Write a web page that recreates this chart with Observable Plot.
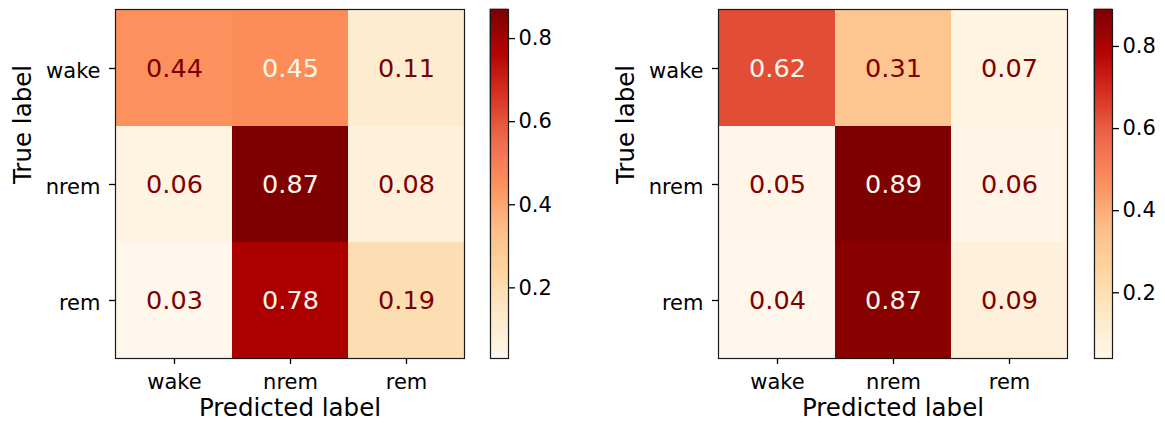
<!DOCTYPE html>
<html>
<head>
<meta charset="utf-8">
<script src="https://cdn.jsdelivr.net/npm/d3@7"></script>
<script src="https://cdn.jsdelivr.net/npm/@observablehq/plot@0.6"></script>
<style>
  html, body { margin: 0; padding: 0; background: #ffffff; }
  #chart { position: relative; width: 1165px; height: 423px; overflow: hidden; }
  #chart > svg { position: absolute; top: 0; }
</style>
</head>
<body>
<div id="chart"></div>
<script>
// Class labels shared by both confusion matrices (rows = true, columns = predicted)
const labels = ["wake", "nrem", "rem"];

// Row-normalised confusion matrix, first model
const matrixLeft = [
  [0.44, 0.45, 0.11],
  [0.06, 0.87, 0.08],
  [0.03, 0.78, 0.19]
];

// Row-normalised confusion matrix, second model
const matrixRight = [
  [0.62, 0.31, 0.07],
  [0.05, 0.89, 0.06],
  [0.04, 0.87, 0.09]
];

// Tick values on the colour bars
const colorbarTicks = [0.2, 0.4, 0.6, 0.8];

// OrRd stops (ColorBrewer, 9 classes), interpolated linearly like a matplotlib colormap
const orrd = ["#fff7ec", "#fee8c8", "#fdd49e", "#fdbb84", "#fc8d59", "#ef6548", "#d7301f", "#b30000", "#7f0000"];
const darkText = orrd[orrd.length - 1];
const lightText = orrd[0];
const font = "DejaVu Sans, Liberation Sans, sans-serif";

const SIDE = 349;       // matrix / colour bar height in px
const TOP = 9;
const HEIGHT = 423;
const BOTTOM = HEIGHT - TOP - SIDE;

function colorScale(lo, hi) {
  const domain = orrd.map((_, i) => lo + (hi - lo) * i / (orrd.length - 1));
  return {type: "linear", domain, range: orrd, interpolate: "rgb"};
}

function toRows(matrix) {
  return matrix.flatMap((row, i) => row.map((value, j) => ({
    trueLabel: labels[i],
    predicted: labels[j],
    value
  })));
}

function matrixPlot(matrix) {
  const rows = toRows(matrix);
  const [lo, hi] = d3.extent(rows, d => d.value);
  const threshold = (lo + hi) / 2;
  const fmt = d3.format(".2f");
  return Plot.plot({
    width: 115 + SIDE + 4,
    height: HEIGHT,
    marginLeft: 115,
    marginRight: 4,
    marginTop: TOP,
    marginBottom: BOTTOM,
    style: {fontFamily: font, background: "transparent", color: "#000", overflow: "visible"},
    x: {type: "band", domain: labels, padding: 0, axis: null},
    y: {type: "band", domain: labels, padding: 0, axis: null},
    color: colorScale(lo, hi),
    marks: [
      Plot.cell(rows, {x: "predicted", y: "trueLabel", fill: "value"}),
      Plot.text(rows.filter(d => d.value < threshold), {
        x: "predicted", y: "trueLabel", text: d => fmt(d.value),
        fill: darkText, fontSize: 25.5
      }),
      Plot.text(rows.filter(d => d.value >= threshold), {
        x: "predicted", y: "trueLabel", text: d => fmt(d.value),
        fill: lightText, fontSize: 25.5
      }),
      Plot.frame({stroke: "#1a1a1a", strokeWidth: 1.2}),
      Plot.axisX({anchor: "bottom", tickSize: 6, tickPadding: 10, fontSize: 21, label: null, strokeWidth: 1.3}),
      Plot.axisY({anchor: "left", tickSize: 6, tickFormat: () => "", label: null, strokeWidth: 1.3}),
      Plot.axisY({anchor: "left", tickSize: 0, tickPadding: 15, dy: 3, fontSize: 21, label: null}),
      Plot.text(["Predicted label"], {frameAnchor: "bottom", lineAnchor: "middle", dy: 50, fontSize: 24.5, fill: "#000"}),
      Plot.text(["True label"], {frameAnchor: "left", lineAnchor: "middle", dx: -92, rotate: -90, fontSize: 24.5, fill: "#000"})
    ]
  });
}

function colorbarPlot(matrix) {
  const values = matrix.flat();
  const [lo, hi] = d3.extent(values);
  const n = 350;
  const step = (hi - lo) / n;
  const bands = d3.range(n).map(i => lo + step * i);
  return Plot.plot({
    width: 2 + 18 + 60,
    height: HEIGHT,
    marginLeft: 2,
    marginRight: 60,
    marginTop: TOP,
    marginBottom: BOTTOM,
    style: {fontFamily: font, background: "transparent", color: "#000", overflow: "visible"},
    x: {domain: [0, 1], axis: null},
    y: {domain: [lo, hi], axis: null},
    color: colorScale(lo, hi),
    marks: [
      Plot.rect(bands, {
        x1: 0, x2: 1,
        y1: d => d, y2: d => d + step,
        fill: d => d + step / 2,
        stroke: d => d + step / 2,
        strokeWidth: 0.6
      }),
      Plot.frame({stroke: "#1a1a1a", strokeWidth: 1.2}),
      Plot.axisY({
        anchor: "right", ticks: colorbarTicks, tickFormat: ".1f",
        tickSize: 6, tickPadding: 4, fontSize: 21, label: null, strokeWidth: 1.3
      })
    ]
  });
}

const chart = document.getElementById("chart");
const place = (svg, left) => { svg.style.left = left + "px"; chart.appendChild(svg); };

place(matrixPlot(matrixLeft), 0);
place(colorbarPlot(matrixLeft), 488);
place(matrixPlot(matrixRight), 603);
place(colorbarPlot(matrixRight), 1092);
</script>
</body>
</html>
